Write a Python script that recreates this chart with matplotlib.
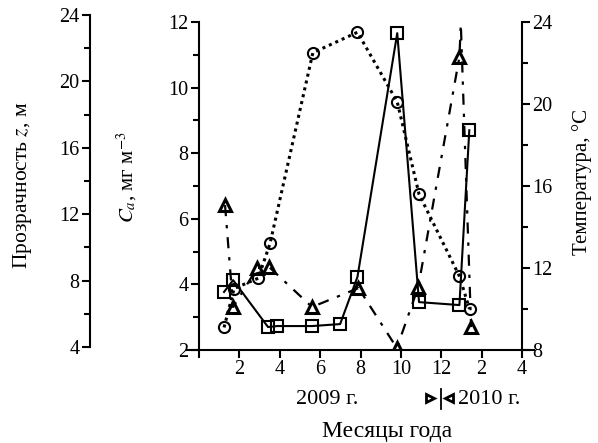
import matplotlib
matplotlib.use("Agg")
import matplotlib.pyplot as plt
from matplotlib.ticker import MultipleLocator
from matplotlib.lines import Line2D

plt.rcParams['font.family'] = ['Liberation Serif', 'DejaVu Serif']
plt.rcParams['mathtext.fontset'] = 'stix'

# --- data (months counted continuously from Jan 2009 = 1; Jan 2010 = 13) ---
ca_month = [1.24, 1.69, 3.42, 3.87, 5.6, 6.99, 7.85, 9.82, 10.9, 12.9, 13.39]
ca_value = [3.77, 4.13, 2.70, 2.73, 2.73, 2.79, 4.23, 11.66, 3.46, 3.37, 8.7]

temp_month = [1.24, 1.74, 2.93, 3.52, 5.64, 7.85, 9.82, 10.9, 12.9, 13.4]
temp_value = [9.1, 11.0, 11.5, 13.2, 22.5, 23.5, 20.1, 15.6, 11.6, 10.0]

z_month = [1.29, 1.69, 2.88, 3.47, 5.6, 7.9, 9.8, 10.86, 12.9, 12.97, 13.48]
z_value = [12.55, 6.41, 8.76, 8.82, 6.41, 7.55, 3.94, 7.61, 21.47, 23.46, 5.2]
z_marked = [0, 1, 2, 3, 4, 5, 6, 7, 8, 10]

xtick_pos = [0, 2, 4, 6, 8, 10, 12, 14, 16]
xtick_lab = ['', '2', '4', '6', '8', '10', '12', '2', '4']

W, H = 598, 443
fig = plt.figure(figsize=(W / 100, H / 100), dpi=100)

def fx(px):
    return px / W

def fy(py):
    return 1 - py / H

TICK_FS = 14.5

# main axes: spans pixel x 187..534, y 22..350
ax = fig.add_axes([fx(187), fy(350), (534 - 187) / W, (350 - 22) / H])
ax.set_facecolor('none')
xpad = 12 / 20.17
ax.set_xlim(-xpad, 16 + xpad)
ax.set_ylim(2, 12)
ax.spines['top'].set_visible(False)
ax.spines['right'].set_visible(False)
ax.spines['left'].set_position(('data', 0))
for s in ax.spines.values():
    s.set_linewidth(1.5)
ax.set_xticks(xtick_pos)
ax.set_xticklabels(xtick_lab)
ax.yaxis.set_major_locator(MultipleLocator(2))
ax.yaxis.set_minor_locator(MultipleLocator(1))
ax.tick_params(axis='both', which='major', direction='out', length=6, width=1.5,
               labelsize=TICK_FS, pad=1.5)
ax.tick_params(axis='y', which='minor', direction='out', length=4, width=1.5)

# temperature twin axis
axt = ax.twinx()
axt.set_ylim(8, 24)
for k in ['left', 'top', 'bottom']:
    axt.spines[k].set_visible(False)
axt.spines['right'].set_position(('data', 16))
axt.spines['right'].set_linewidth(1.5)
axt.yaxis.set_major_locator(MultipleLocator(4))
axt.yaxis.set_minor_locator(MultipleLocator(2))
axt.tick_params(axis='y', which='major', direction='out', length=6, width=1.5,
                labelsize=TICK_FS, pad=1.5)
axt.tick_params(axis='y', which='minor', direction='out', length=4, width=1.5)

# transparency twin axis (invisible), aligned to the far-left scale
axz = ax.twinx()
axz.set_axis_off()
zpx_per = 332 / 20.0
axz.set_ylim(4 - (350 - 347) / zpx_per, 4 + (347 - 22) / zpx_per)

# far-left visible transparency scale
axl = fig.add_axes([fx(90), fy(347), 0.0001, (347 - 15) / H])
axl.set_facecolor('none')
axl.set_ylim(4, 24)
for k in ['right', 'top', 'bottom']:
    axl.spines[k].set_visible(False)
axl.spines['left'].set_linewidth(1.5)
axl.set_xticks([])
axl.yaxis.set_major_locator(MultipleLocator(4))
axl.yaxis.set_minor_locator(MultipleLocator(2))
axl.tick_params(axis='y', which='major', direction='out', length=6, width=1.5,
                labelsize=TICK_FS, pad=1.5)
axl.tick_params(axis='y', which='minor', direction='out', length=4, width=1.5)

# series
axt.plot(temp_month, temp_value, linestyle=(0, (1, 1.3)), linewidth=2.2, color='black',
         marker='o', markersize=8, markerfacecolor='none', markeredgewidth=1.5,
         markeredgecolor='black')
ax.plot(ca_month, ca_value, linestyle='-', linewidth=1.5, color='black',
        marker='s', markersize=8.5, markerfacecolor='none', markeredgewidth=1.5,
        markeredgecolor='black')
axz.plot(z_month, z_value, linestyle=(0, (5, 4, 1.5, 4)), linewidth=1.6, color='black',
         marker='^', markersize=9, markerfacecolor='none', markeredgewidth=2.2,
         markeredgecolor='black', markevery=z_marked)

# labels
fig.text(fx(23), fy(185), 'Прозрачность $z$, м', rotation=90, ha='center', va='center',
         fontsize=15.5)
fig.text(fx(127), fy(177), '$C_a$, мг м$^{-3}$', rotation=90, ha='center', va='center',
         fontsize=15)
fig.text(fx(582), fy(182), 'Температура, °C', rotation=90, ha='center', va='center',
         fontsize=15)
fig.text(fx(327), fy(399), '2009 г.', ha='center', va='center', fontsize=16)
fig.text(fx(458), fy(399), '2010 г.', ha='left', va='center', fontsize=16)
fig.add_artist(Line2D([fx(430)], [fy(398)], marker='>', markersize=5.5, markerfacecolor='none',
                      markeredgecolor='black', markeredgewidth=2, linestyle='none'))
fig.add_artist(Line2D([fx(449)], [fy(398)], marker='<', markersize=5.5, markerfacecolor='none',
                      markeredgecolor='black', markeredgewidth=2, linestyle='none'))
fig.add_artist(Line2D([fx(441), fx(441)], [fy(389), fy(409)], color='black', linewidth=1.3))
fig.text(fx(387), fy(432), 'Месяцы года', ha='center', va='center', fontsize=17)

fig.savefig('out.png', dpi=100)
